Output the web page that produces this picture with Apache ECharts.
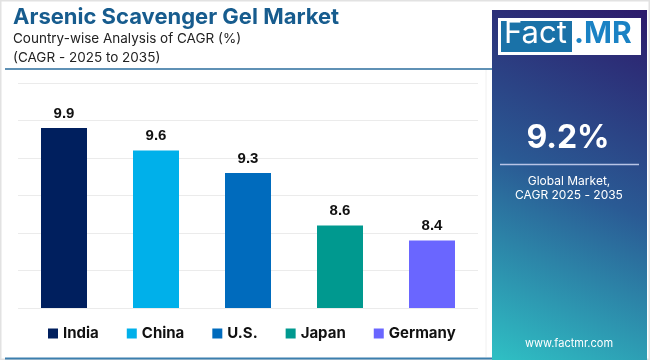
<!DOCTYPE html>
<html><head><meta charset="utf-8">
<script src="https://cdn.jsdelivr.net/npm/echarts@6/dist/echarts.min.js"></script>
<style>html,body{margin:0;padding:0;background:#fff}#c{width:650px;height:360px}</style>
</head><body><div id="c"></div>
<script>
var categories = ['India', 'China', 'U.S.', 'Japan', 'Germany'];
var values = [9.9, 9.6, 9.3, 8.6, 8.4];
var colors = ['#001f5e', '#00b0ea', '#006bbd', '#00998f', '#6a66ff'];
var titleText = 'Arsenic Scavenger Gel Market';
var subtitle1 = 'Country-wise Analysis of CAGR (%)';
var subtitle2 = '(CAGR - 2025 to 2035)';
var globalValue = '9.2%';

var chart = echarts.init(document.getElementById('c'), null, {renderer: 'canvas'});
var F = 'Inter, "Open Sans", sans-serif';
var series = categories.map(function (name, i) {
  var d = categories.map(function (c, j) { return j === i ? values[i] : '-'; });
  return {
    name: name, type: 'bar', stack: 's', data: d, barWidth: '50%',
    itemStyle: {color: colors[i]},
    label: {show: true, position: 'top', distance: 7, color: '#111',
      fontFamily: 'Liberation Sans, Arial, sans-serif', fontWeight: 'bold', fontSize: 15,
      formatter: function (p) { return p.value.toFixed(1); }}
  };
});
chart.setOption({
  animation: false,
  backgroundColor: '#ffffff',
  grid: {left: 18, right: 172, top: 83, bottom: 52},
  xAxis: {type: 'category', data: categories, axisLine: {show: false}, axisTick: {show: false}, axisLabel: {show: false}},
  yAxis: {type: 'value', min: 7.5, max: 10.5, interval: 0.5, axisLabel: {show: false},
    splitLine: {lineStyle: {color: '#ebebeb', width: 1}}},
  legend: {left: 43, top: 321, itemWidth: 10, itemHeight: 10, itemGap: 28, icon: 'rect',
    textStyle: {fontFamily: F, fontWeight: 'bold', fontSize: 15, color: '#111'},
    data: categories},
  series: series,
  graphic: [
    {type: 'rect', z: -10, shape: {x: 0, y: 0, width: 650, height: 360}, style: {fill: 'none', stroke: '#e2e2e2', lineWidth: 3}},
    {type: 'line', shape: {x1: 5, y1: 69, x2: 492, y2: 69}, style: {stroke: '#2a6d9c', lineWidth: 1.5}},
    {type: 'line', shape: {x1: 486, y1: 70, x2: 486, y2: 357}, style: {stroke: '#f0f0f0', lineWidth: 1}},
    {type: 'line', shape: {x1: 5, y1: 358.5, x2: 492, y2: 358.5}, style: {stroke: '#3c7fae', lineWidth: 2}},
    {type: 'text', left: 13, top: 6, style: {text: titleText, fontFamily: F, fontWeight: 'bold', fontSize: 22, fill: '#175c8e'}},
    {type: 'text', left: 13, top: 32, style: {text: subtitle1, fontFamily: F, fontSize: 13.5, fill: '#222'}},
    {type: 'text', left: 13, top: 51, style: {text: subtitle2, fontFamily: F, fontSize: 13.5, fill: '#222'}},
    {type: 'rect', shape: {x: 492, y: 10, width: 155, height: 350},
      style: {fill: new echarts.graphic.LinearGradient(1, 0, 0, 1, [
        {offset: 0, color: '#2d1b6b'}, {offset: 0.5, color: '#2a5a94'}, {offset: 1, color: '#2fc0c4'}])}},
    {type: 'rect', shape: {x: 498, y: 18, width: 143, height: 37}, style: {fill: '#ffffff'}},
    {type: 'rect', shape: {x: 501, y: 21, width: 71, height: 31}, style: {fill: '#1a72a8'}},
    {type: 'text', left: 504, top: 18, style: {text: 'Fact', fontFamily: F, fontSize: 31, fill: '#ffffff'}},
    {type: 'text', left: 574, top: 19, style: {text: '.MR', fontFamily: F, fontWeight: 'bold', fontSize: 30, fill: '#1a82c4'}},
    {type: 'text', x: 568, y: 138, style: {text: globalValue, fontFamily: F, fontWeight: 'bold', fontSize: 32, fill: '#ffffff', textAlign: 'center', textVerticalAlign: 'middle'}},
    {type: 'line', shape: {x1: 500, y1: 164.5, x2: 639, y2: 164.5}, style: {stroke: '#b8c4e6', lineWidth: 1.5}},
    {type: 'text', x: 569, y: 181, style: {text: 'Global Market,', fontFamily: F, fontSize: 12, fill: '#ffffff', textAlign: 'center', textVerticalAlign: 'middle'}},
    {type: 'text', x: 569, y: 195, style: {text: 'CAGR 2025 - 2035', fontFamily: F, fontSize: 12, fill: '#ffffff', textAlign: 'center', textVerticalAlign: 'middle'}},
    {type: 'text', x: 569, y: 344, style: {text: 'www.factmr.com', fontFamily: F, fontSize: 11, fill: '#ffffff', textAlign: 'center', textVerticalAlign: 'middle'}}
  ]
});
</script></body></html>
